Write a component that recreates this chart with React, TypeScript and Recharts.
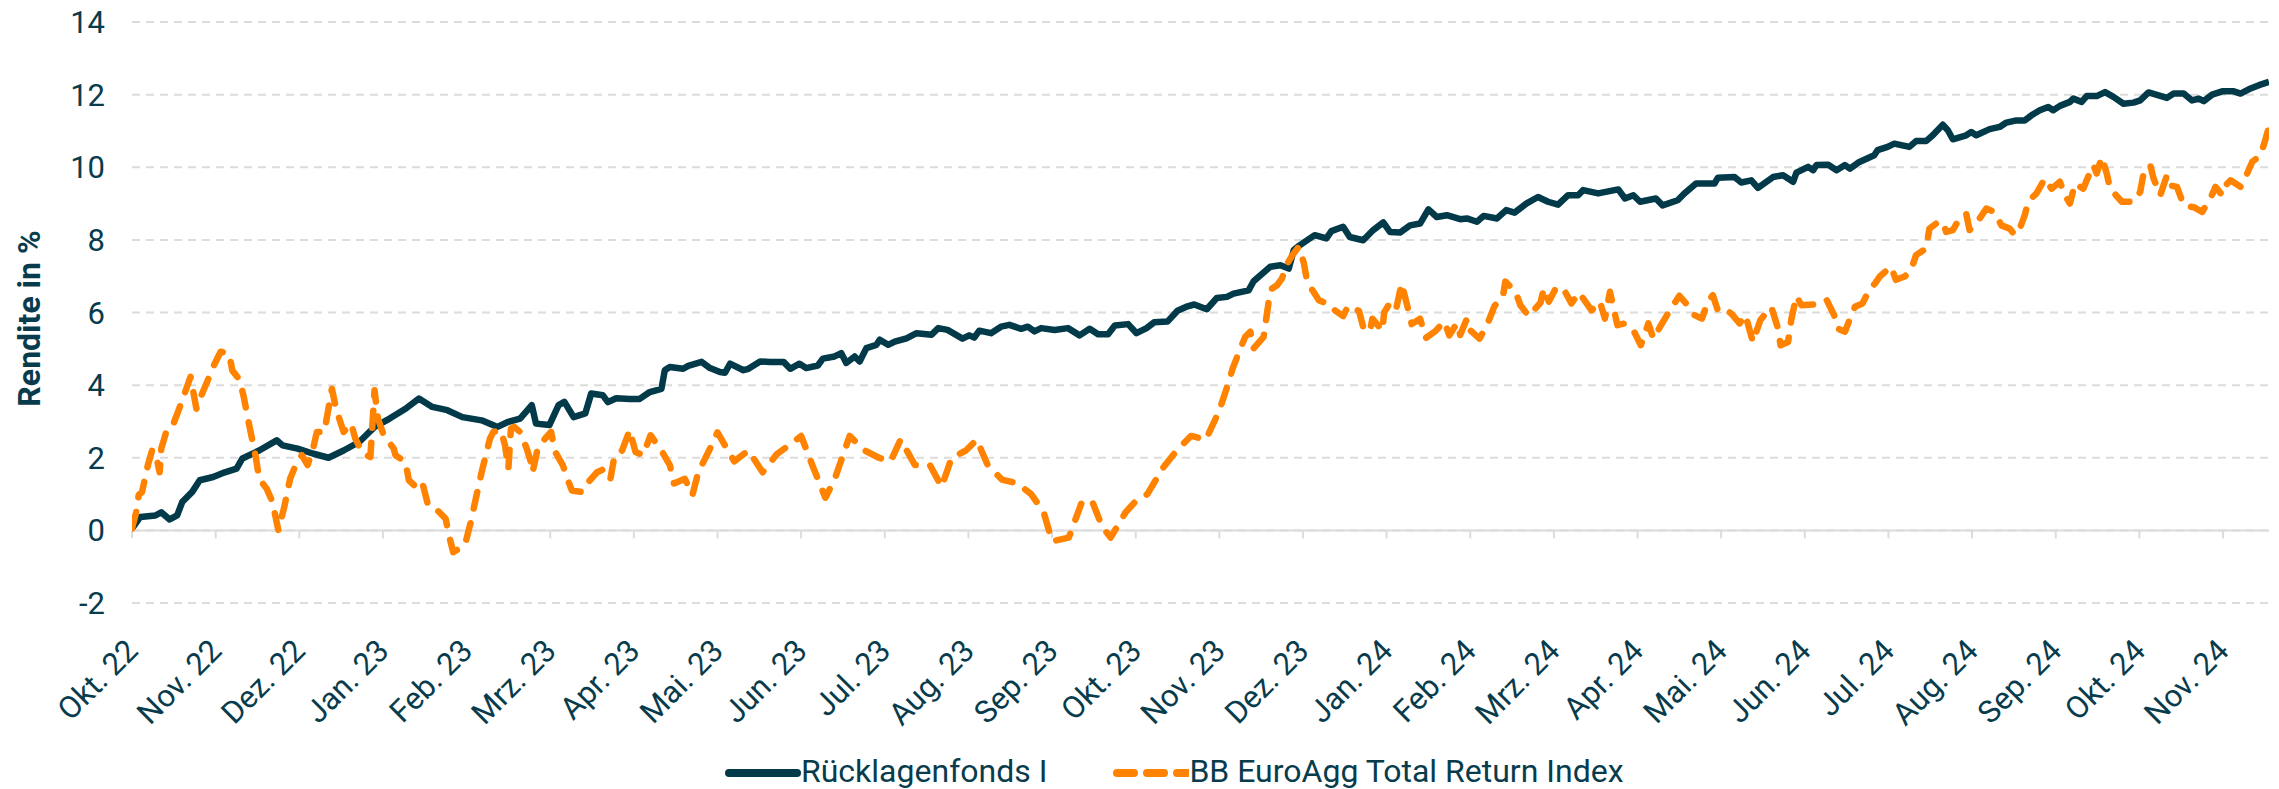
import { CartesianGrid, Legend, Line, LineChart, ReferenceLine, XAxis, YAxis } from "recharts";

const months = [
  "Okt. 22", "Nov. 22", "Dez. 22", "Jan. 23", "Feb. 23", "Mrz. 23", "Apr. 23",
  "Mai. 23", "Jun. 23", "Jul. 23", "Aug. 23", "Sep. 23", "Okt. 23", "Nov. 23",
  "Dez. 23", "Jan. 24", "Feb. 24", "Mrz. 24", "Apr. 24", "Mai. 24", "Jun. 24",
  "Jul. 24", "Aug. 24", "Sep. 24", "Okt. 24", "Nov. 24",
];

const yTicks = [-2, 0, 2, 4, 6, 8, 10, 12, 14];

// [month offset from Okt. 22, return in %]
const fundSeries: [number, number][] = [
  [0, 0.05], [0.1, 0.37], [0.28, 0.41], [0.35, 0.5], [0.45, 0.3], [0.54, 0.41], [0.6, 0.78],
  [0.72, 1.06], [0.81, 1.38], [0.97, 1.47], [1.11, 1.6], [1.25, 1.7], [1.32, 1.98], [1.52, 2.2],
  [1.73, 2.48], [1.8, 2.34], [1.98, 2.25], [2.17, 2.11], [2.35, 2.0], [2.53, 2.2], [2.72, 2.44],
  [2.9, 2.85], [3.08, 3.08], [3.27, 3.35], [3.43, 3.63], [3.59, 3.4], [3.77, 3.31], [3.95, 3.12],
  [4.18, 3.03], [4.37, 2.85], [4.5, 2.99], [4.64, 3.08], [4.78, 3.45], [4.83, 2.94], [4.99, 2.9],
  [5.1, 3.45], [5.17, 3.54], [5.28, 3.12], [5.42, 3.22], [5.49, 3.77], [5.63, 3.72], [5.69, 3.53],
  [5.79, 3.64], [5.95, 3.62], [6.07, 3.62], [6.19, 3.81], [6.33, 3.9], [6.37, 4.41], [6.43, 4.5],
  [6.59, 4.45], [6.65, 4.53], [6.81, 4.64], [6.91, 4.47], [7.03, 4.36], [7.09, 4.34], [7.15, 4.59],
  [7.31, 4.41], [7.37, 4.45], [7.51, 4.65], [7.63, 4.64], [7.79, 4.64], [7.87, 4.45], [7.98, 4.59],
  [8.06, 4.47], [8.2, 4.54], [8.26, 4.73], [8.4, 4.79], [8.48, 4.88], [8.54, 4.61], [8.64, 4.79],
  [8.7, 4.65], [8.78, 5.02], [8.9, 5.11], [8.94, 5.25], [9.04, 5.11], [9.12, 5.2], [9.26, 5.29],
  [9.38, 5.43], [9.56, 5.39], [9.64, 5.57], [9.75, 5.52], [9.93, 5.28], [10.01, 5.37], [10.07, 5.31],
  [10.13, 5.5], [10.27, 5.43], [10.39, 5.61], [10.49, 5.66], [10.63, 5.55], [10.71, 5.61], [10.79, 5.48],
  [10.87, 5.57], [11.03, 5.52], [11.19, 5.57], [11.33, 5.37], [11.45, 5.55], [11.55, 5.4], [11.67, 5.4],
  [11.75, 5.64], [11.91, 5.68], [12.01, 5.43], [12.13, 5.57], [12.22, 5.73], [12.38, 5.75], [12.5, 6.05],
  [12.62, 6.17], [12.7, 6.22], [12.85, 6.09], [12.97, 6.4], [13.09, 6.43], [13.17, 6.52], [13.35, 6.61],
  [13.41, 6.86], [13.61, 7.26], [13.73, 7.3], [13.83, 7.21], [13.89, 7.72], [13.96, 7.85], [14.14, 8.13],
  [14.28, 8.04], [14.34, 8.24], [14.48, 8.36], [14.56, 8.08], [14.72, 7.99], [14.84, 8.27], [14.96, 8.48],
  [15.04, 8.22], [15.16, 8.2], [15.28, 8.4], [15.4, 8.45], [15.5, 8.84], [15.6, 8.63], [15.72, 8.68],
  [15.88, 8.57], [15.96, 8.59], [16.08, 8.5], [16.16, 8.66], [16.32, 8.59], [16.43, 8.82], [16.53, 8.75],
  [16.67, 9.0], [16.81, 9.18], [16.93, 9.05], [17.05, 8.97], [17.17, 9.23], [17.29, 9.23], [17.35, 9.37],
  [17.53, 9.28], [17.77, 9.39], [17.85, 9.14], [17.95, 9.23], [18.03, 9.05], [18.22, 9.14], [18.3, 8.95],
  [18.48, 9.09], [18.56, 9.28], [18.7, 9.55], [18.92, 9.55], [18.96, 9.71], [19.16, 9.73], [19.24, 9.58],
  [19.36, 9.64], [19.44, 9.43], [19.62, 9.73], [19.74, 9.78], [19.86, 9.6], [19.9, 9.85], [20.04, 10.01],
  [20.1, 9.92], [20.14, 10.06], [20.28, 10.07], [20.38, 9.92], [20.48, 10.06], [20.54, 9.96], [20.64, 10.13],
  [20.83, 10.33], [20.87, 10.47], [20.99, 10.56], [21.07, 10.65], [21.25, 10.56], [21.33, 10.72], [21.45, 10.72],
  [21.53, 10.88], [21.65, 11.17], [21.71, 11.02], [21.77, 10.77], [21.93, 10.88], [21.99, 10.97], [22.05, 10.88],
  [22.21, 11.05], [22.33, 11.11], [22.41, 11.23], [22.53, 11.29], [22.63, 11.29], [22.71, 11.43], [22.81, 11.57],
  [22.91, 11.66], [22.97, 11.57], [23.05, 11.69], [23.17, 11.8], [23.21, 11.89], [23.31, 11.8], [23.37, 11.96],
  [23.49, 11.96], [23.59, 12.07], [23.69, 11.94], [23.81, 11.75], [23.93, 11.78], [24.01, 11.84], [24.11, 12.06],
  [24.23, 11.98], [24.33, 11.91], [24.41, 12.03], [24.53, 12.03], [24.63, 11.84], [24.71, 11.89], [24.77, 11.82],
  [24.87, 12.0], [24.99, 12.09], [25.13, 12.09], [25.21, 12.03], [25.33, 12.17], [25.43, 12.26], [25.55, 12.35],
];

const indexSeries: [number, number][] = [
  [0, 0.05], [0.05, 0.5], [0.08, 0.97], [0.12, 1.06], [0.19, 1.8], [0.24, 2.2], [0.28, 2.15], [0.33, 1.6],
  [0.35, 2.25], [0.42, 2.8], [0.49, 2.9], [0.58, 3.45], [0.7, 4.23], [0.77, 3.35], [0.83, 3.72], [0.9, 4.1],
  [0.97, 4.5], [1.06, 4.92], [1.16, 4.87], [1.2, 4.4], [1.29, 4.14], [1.34, 3.63], [1.41, 2.8], [1.48, 2.02],
  [1.52, 1.42], [1.61, 1.15], [1.68, 0.78], [1.75, 0], [1.82, 0.64], [1.89, 1.42], [1.94, 1.7], [2.03, 2.07],
  [2.1, 1.8], [2.17, 2.3], [2.21, 2.71], [2.3, 2.71], [2.39, 3.9], [2.44, 3.35], [2.53, 2.71], [2.62, 2.94],
  [2.67, 2.53], [2.76, 2.11], [2.85, 2.02], [2.9, 3.86], [2.94, 3.08], [3.01, 2.62], [3.13, 2.25], [3.15, 2.07],
  [3.27, 1.88], [3.31, 1.38], [3.4, 1.19], [3.47, 1.33], [3.54, 0.69], [3.63, 0.6], [3.75, 0.32], [3.79, -0.14],
  [3.84, -0.6], [3.98, -0.41], [4.05, 0.23], [4.11, 0.87], [4.18, 1.6], [4.23, 2.07], [4.28, 2.53], [4.32, 2.71],
  [4.41, 2.76], [4.46, 2.34], [4.5, 1.7], [4.53, 2.8], [4.57, 2.85], [4.64, 2.71], [4.72, 2.25], [4.77, 1.88],
  [4.79, 1.6], [4.85, 2.25], [4.94, 2.53], [5.01, 2.71], [5.06, 2.16], [5.15, 1.8], [5.22, 1.33], [5.26, 1.1],
  [5.38, 1.06], [5.44, 1.29], [5.56, 1.6], [5.65, 1.7], [5.72, 1.42], [5.77, 2.07], [5.86, 2.2], [5.95, 2.76],
  [6.02, 2.16], [6.11, 2.07], [6.2, 2.62], [6.34, 2.16], [6.43, 1.8], [6.48, 1.29], [6.61, 1.42], [6.7, 0.97],
  [6.77, 1.6], [6.9, 2.2], [7.0, 2.7], [7.2, 1.9], [7.37, 2.2], [7.54, 1.6], [7.71, 2.1], [7.89, 2.4],
  [8.0, 2.6], [8.15, 1.7], [8.29, 0.9], [8.4, 1.4], [8.58, 2.6], [8.76, 2.2], [8.93, 2.0], [9.07, 1.9],
  [9.19, 2.5], [9.36, 1.8], [9.54, 1.8], [9.68, 1.2], [9.8, 2.0], [9.97, 2.2], [10.1, 2.5], [10.23, 1.8],
  [10.4, 1.4], [10.58, 1.3], [10.75, 1.0], [10.9, 0.5], [11.0, -0.3], [11.2, -0.2], [11.36, 0.8], [11.48, 0.8],
  [11.6, 0.1], [11.7, -0.2], [11.88, 0.5], [12.0, 0.8], [12.14, 1.0], [12.32, 1.7], [12.49, 2.2], [12.66, 2.6],
  [12.84, 2.5], [13.0, 3.3], [13.1, 4.0], [13.16, 4.46], [13.25, 5.0], [13.31, 5.33], [13.37, 5.47], [13.41, 5.01],
  [13.53, 5.33], [13.59, 6.3], [13.63, 6.66], [13.69, 6.75], [13.75, 6.94], [13.8, 7.3], [13.88, 7.6], [13.95, 7.81],
  [14.01, 7.37], [14.04, 6.98], [14.1, 6.66], [14.19, 6.34], [14.33, 6.2], [14.35, 6.11], [14.48, 5.9], [14.54, 6.18],
  [14.67, 6.04], [14.72, 5.6], [14.8, 5.47], [14.83, 5.83], [14.95, 5.5], [14.97, 6.0], [15.06, 6.34], [15.12, 6.16],
  [15.18, 6.8], [15.25, 6.16], [15.3, 5.68], [15.4, 5.83], [15.47, 5.3], [15.58, 5.48], [15.69, 5.75], [15.75, 5.37],
  [15.84, 5.7], [15.88, 5.38], [15.96, 5.83], [16.0, 5.51], [16.11, 5.28], [16.2, 5.65], [16.29, 6.18], [16.39, 6.43],
  [16.42, 6.85], [16.54, 6.57], [16.6, 6.2], [16.7, 5.9], [16.84, 6.27], [16.88, 6.66], [16.94, 6.3], [17.03, 6.7],
  [17.12, 6.63], [17.21, 6.25], [17.3, 6.55], [17.45, 6.06], [17.55, 6.3], [17.61, 5.83], [17.67, 6.57], [17.76, 5.65],
  [17.85, 5.7], [17.94, 5.56], [18.04, 5.1], [18.13, 5.7], [18.19, 5.28], [18.28, 5.65], [18.4, 6.11], [18.5, 6.46],
  [18.6, 6.2], [18.68, 5.93], [18.77, 5.83], [18.84, 6.29], [18.9, 6.48], [18.96, 6.06], [19.04, 6.11], [19.13, 5.95],
  [19.22, 5.7], [19.29, 5.93], [19.38, 5.19], [19.47, 5.8], [19.6, 6.15], [19.68, 5.56], [19.71, 5.1], [19.8, 5.19],
  [19.84, 5.83], [19.9, 6.45], [19.96, 6.2], [20.1, 6.22], [20.26, 6.35], [20.35, 5.93], [20.39, 5.56], [20.48, 5.47],
  [20.54, 5.83], [20.6, 6.16], [20.69, 6.25], [20.77, 6.62], [20.84, 6.8], [20.9, 7.0], [21.03, 7.26], [21.09, 6.9],
  [21.2, 7.0], [21.27, 7.17], [21.33, 7.58], [21.45, 7.76], [21.49, 8.31], [21.57, 8.45], [21.65, 8.5], [21.69, 8.22],
  [21.77, 8.27], [21.85, 8.59], [21.93, 8.72], [21.97, 8.27], [22.09, 8.59], [22.17, 8.86], [22.27, 8.77], [22.35, 8.4],
  [22.45, 8.31], [22.51, 8.13], [22.57, 8.31], [22.63, 8.68], [22.67, 9.05], [22.77, 9.28], [22.87, 9.69], [22.95, 9.41],
  [23.05, 9.6], [23.11, 9.23], [23.17, 9.0], [23.23, 9.55], [23.33, 9.41], [23.37, 9.64], [23.45, 10.06], [23.49, 9.83],
  [23.55, 10.28], [23.61, 9.83], [23.65, 9.41], [23.79, 9.05], [23.93, 9.05], [24.01, 9.32], [24.05, 9.83], [24.13, 10.06],
  [24.17, 9.69], [24.25, 9.23], [24.33, 9.78], [24.37, 9.5], [24.45, 9.46], [24.53, 8.95], [24.65, 8.9], [24.75, 8.77],
  [24.85, 9.14], [24.91, 9.46], [24.99, 9.23], [25.03, 9.5], [25.09, 9.64], [25.21, 9.46], [25.27, 9.73], [25.35, 10.15],
  [25.45, 10.33], [25.51, 10.79], [25.55, 11.11],
];

const INK = "#083c4d";
const FUND = "#023a4a";
const INDEX = "#ff8200";
const GRID = "#dcdcdc";
const FONT = "Roboto, 'Noto Sans', sans-serif";

const series = [
  { key: "fund", name: "Rücklagenfonds I", color: FUND, dash: undefined as string | undefined, data: fundSeries },
  { key: "index", name: "BB EuroAgg Total Return Index", color: INDEX, dash: "17 15", data: indexSeries },
];

const toRows = (s: [number, number][]) => s.map(([t, v]) => ({ t, v }));
const monthTicks = months.map((_, i) => i);

function MonthTick({ x, y, payload }: any) {
  const ay = y + 40;
  return (
    <text
      x={x}
      y={ay}
      dy="0.35em"
      textAnchor="end"
      transform={`rotate(-45, ${x}, ${ay})`}
      fill={INK}
      fontSize={31}
      fontFamily={FONT}
    >
      {months[payload.value]}
    </text>
  );
}

function YLabel({ viewBox }: any) {
  const cy = viewBox ? viewBox.y + viewBox.height / 2 + 6 : 319;
  return (
    <text
      x={29}
      y={cy}
      dy="0.35em"
      textAnchor="middle"
      transform={`rotate(-90, 29, ${cy})`}
      fill={INK}
      fontSize={32}
      fontWeight={700}
      fontFamily={FONT}
    >
      Rendite in %
    </text>
  );
}

function LegendBox() {
  return (
    <div style={{ display: "flex", alignItems: "center", fontFamily: FONT, fontSize: 32, color: INK, whiteSpace: "nowrap" }}>
      {series.map((s, i) => (
        <div key={s.key} style={{ display: "flex", alignItems: "center", marginLeft: i ? 66 : 0 }}>
          <svg width={76} height={38}>
            <line
              x1={4}
              x2={s.dash ? 74 : 72}
              y1={21}
              y2={21}
              stroke={s.color}
              strokeWidth={8}
              strokeLinecap="round"
              strokeDasharray={s.dash ? "17 13" : undefined}
            />
          </svg>
          <span style={{ lineHeight: "38px" }}>{s.name}</span>
        </div>
      ))}
    </div>
  );
}

export default function App() {
  return (
    <div style={{ position: "absolute", left: 0, top: 0, background: "#fff" }}>
      <LineChart width={2279} height={789} margin={{ top: 22, right: 10, left: 0, bottom: 0 }}>
        <CartesianGrid vertical={false} stroke={GRID} strokeWidth={2} strokeDasharray="8 6" />
        <XAxis
          type="number"
          dataKey="t"
          domain={[0, 25.55]}
          ticks={monthTicks}
          interval={0}
          allowDataOverflow
          height={186}
          axisLine={false}
          tickLine={false}
          tickSize={0}
          tick={<MonthTick />}
        />
        <YAxis
          width={132}
          domain={[-2, 14]}
          ticks={yTicks}
          interval={0}
          axisLine={false}
          tickLine={false}
          tickSize={0}
          tickMargin={27}
          tick={{ fill: INK, fontSize: 31, fontFamily: FONT }}
          label={<YLabel />}
        />
        <ReferenceLine y={0} stroke={GRID} strokeWidth={2} />
        {monthTicks.map((m) => (
          <ReferenceLine
            key={m}
            segment={[{ x: m, y: 0 }, { x: m, y: -0.22 }]}
            stroke={GRID}
            strokeWidth={2}
          />
        ))}
        <Legend
          layout="vertical"
          align="center"
          verticalAlign="middle"
          wrapperStyle={{ left: 725, top: 752, width: "auto" }}
          content={() => <LegendBox />}
        />
        {series.map((s) => (
          <Line
            key={s.key}
            data={toRows(s.data)}
            dataKey="v"
            name={s.name}
            type="linear"
            stroke={s.color}
            strokeWidth={6.5}
            strokeDasharray={s.dash}
            strokeLinecap={s.dash ? "round" : "butt"}
            strokeLinejoin="round"
            dot={false}
            activeDot={false}
            isAnimationActive={false}
          />
        ))}
      </LineChart>
    </div>
  );
}
